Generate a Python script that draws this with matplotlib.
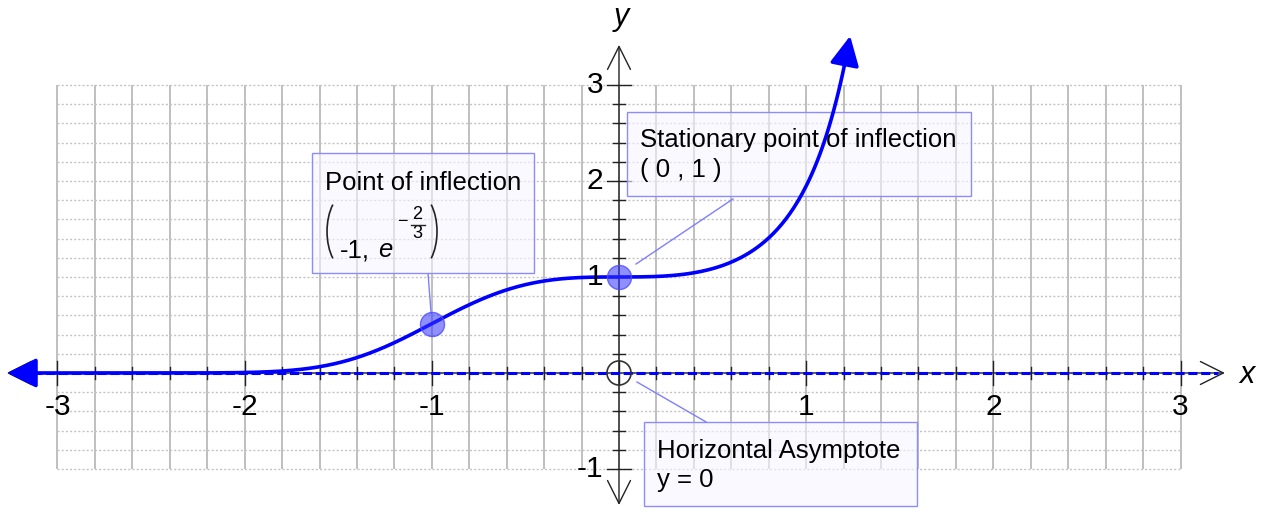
import numpy as np
import matplotlib.pyplot as plt
from matplotlib.patches import Rectangle, Arc

plt.rcParams['font.family'] = ['Liberation Sans', 'DejaVu Sans']

# график y = e^(2x^3/3)
k = 2 / 3
x_start, x_end = -3.27, 1.235
x_ticks = [-3, -2, -1, 1, 2, 3]
y_ticks = [-1, 1, 2, 3]
inflection = (-1, np.exp(-2 / 3))
stationary = (0, 1)
asymptote_y = 0


def f(x):
    return np.exp(k * x ** 3)


fig = plt.figure(figsize=(12.7, 5.12), dpi=100)
ax = fig.add_axes([0, 0, 1, 1])
ax.set_xlim(-3.307, 3.478)
ax.set_ylim(-1.448, 3.885)
ax.axis('off')

# пиксели -> единицы данных
px = 1 / 187.2
py = 1 / 96

# сетка
gx = np.round(np.arange(-3, 3.001, 0.2), 2)
gy = np.round(np.arange(-1, 3.001, 0.2), 2)
ax.vlines(gx, -1, 3, color='#b4b4b4', lw=1.2, zorder=1)
ax.hlines(gy, -3, 3, color='#c4c4c4', lw=1.0, linestyles=(0, (1.5, 1.5)), zorder=1)

# оси со стрелками
axis_arrow = dict(arrowstyle='<->,head_length=1.1,head_width=0.55', color='#222222',
                  lw=1.0, mutation_scale=15, shrinkA=0, shrinkB=0)
ax.annotate('', xy=(3.237, 0), xytext=(-3.27, 0), arrowprops=axis_arrow, zorder=2)
ax.annotate('', xy=(0, 3.417), xytext=(0, -1.375), arrowprops=axis_arrow, zorder=2)

# засечки
for t in gx:
    h = 12 if abs(t - round(t)) < 1e-9 else 6
    ax.plot([t, t], [-h * py, h * py], color='#222222', lw=1.0, zorder=2)
for t in gy:
    if abs(t) < 1e-9:
        continue
    h = 12 if abs(t - round(t)) < 1e-9 else 6
    ax.plot([-h * px, h * px], [t, t], color='#222222', lw=1.0, zorder=2)

for t in x_ticks:
    ax.text(t, -0.354, str(t), fontsize=21.5, ha='center', va='center', zorder=6)
for t in y_ticks:
    ax.text(-0.085, t, str(t), fontsize=21.5, ha='right', va='center', zorder=6)
ax.text(3.355, -0.02, 'x', fontsize=22, style='italic', ha='center', va='center')
ax.text(0.011, 3.71, 'y', fontsize=22, style='italic', ha='center', va='center')

# асимптота
ax.plot([-3.2, 3.2], [asymptote_y, asymptote_y], color='#0000ff', lw=2.2,
        dashes=(3, 1.2), zorder=3)

# кривая
x = np.linspace(x_start + 0.08, x_end - 0.02, 600)
ax.plot(x, f(x), color='#0000ff', lw=2.6, zorder=5, solid_capstyle='butt')
arr = dict(arrowstyle='-|>,head_length=0.9,head_width=0.45', color='#0000ff',
           lw=2.6, mutation_scale=20, shrinkA=0, shrinkB=0)
ax.annotate('', xy=(x_end, f(x_end)), xytext=(x_end - 0.03, f(x_end - 0.03)),
            arrowprops=arr, zorder=5)
ax.annotate('', xy=(x_start, f(x_start)), xytext=(x_start + 0.1, f(x_start + 0.1)),
            arrowprops=arr, zorder=5)

# точки
ax.scatter([inflection[0], stationary[0]], [inflection[1], stationary[1]], s=300,
           facecolor=(0.2, 0.2, 1.0, 0.55), edgecolor=(0.3, 0.3, 1.0, 0.8),
           lw=1.0, zorder=6)
ax.scatter([0], [asymptote_y], s=300, facecolor='none', edgecolor='#333333',
           lw=1.2, zorder=6)

# подписи в рамках
box_kw = dict(facecolor=(0.96, 0.96, 1.0, 0.6), edgecolor='#8c8cff', lw=1.0, zorder=4)
line_kw = dict(color='#7f7fff', lw=1.0, zorder=4)
fs = 18.5

ax.add_patch(Rectangle((-1.640, 1.042), 1.186, 1.25, **box_kw))
ax.plot([-1.02, -1.004], [1.03, 0.625], **line_kw)
ax.text(-1.571, 1.906, 'Point of inflection', fontsize=fs, va='baseline', zorder=7)
# (-1, e^(-2/3)) с большими скобками
pw, ph = 40 * px, 76 * py
ang = np.degrees(np.arctan2(ph * np.sin(np.pi / 4), pw * np.cos(np.pi / 4)))
ax.add_patch(Arc((-1.4530, 1.474), pw, ph, theta1=180 - ang, theta2=180 + ang,
                 color='#222222', lw=1.2, zorder=7))
ax.add_patch(Arc((-1.0791, 1.474), pw, ph, theta1=-ang, theta2=ang,
                 color='#222222', lw=1.2, zorder=7))
ax.text(-1.490, 1.208, '-1,', fontsize=fs, va='baseline', zorder=7)
ax.text(-1.2126, 1.208, 'e', fontsize=fs, style='italic', ha='right',
        va='baseline', zorder=7)
ax.text(-1.159, 1.573, '\u2212', fontsize=13, ha='center', va='center', zorder=7)
ax.text(-1.076, 1.651, '2', fontsize=13, ha='center', va='center', zorder=7)
ax.text(-1.076, 1.453, '3', fontsize=13, ha='center', va='center', zorder=7)
ax.plot([-1.111, -1.038], [1.542, 1.542], color='#222222', lw=1.0, zorder=7)

ax.add_patch(Rectangle((0.043, 1.844), 1.837, 0.875, **box_kw))
ax.plot([0.609, 0.091], [1.8125, 1.135], **line_kw)
ax.text(0.112, 2.354, 'Stationary point of inflection', fontsize=fs,
        va='baseline', zorder=7)
ax.text(0.112, 2.04, '( 0 , 1 )', fontsize=fs, va='baseline', zorder=7)

ax.add_patch(Rectangle((0.134, -1.385), 1.458, 0.875, **box_kw))
ax.plot([0.096, 0.465], [-0.094, -0.51], **line_kw)
ax.text(0.203, -0.885, 'Horizontal Asymptote', fontsize=fs, va='baseline', zorder=7)
ax.text(0.203, -1.19, 'y = 0', fontsize=fs, va='baseline', zorder=7)

fig.savefig('out.png', dpi=100, facecolor='white')
